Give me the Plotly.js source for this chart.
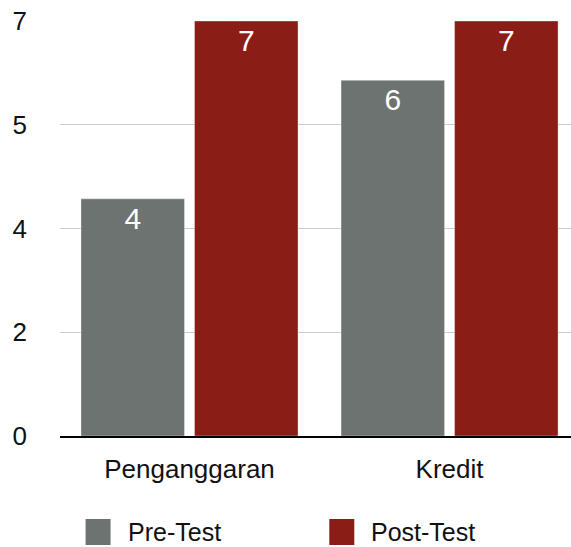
<!DOCTYPE html>
<html>
<head>
<meta charset="utf-8">
<script src="https://cdn.plot.ly/plotly-3.0.1.min.js"></script>
<style>html,body{margin:0;padding:0;background:#fff;}#chart{width:571px;height:547px;}</style>
</head>
<body>
<div id="chart"></div>
<script>
var categories = ['Penganggaran', 'Kredit'];
var seriesNames = ['Pre-Test', 'Post-Test'];
var preTest = [4, 6];
var postTest = [7, 7];
var seriesColors = ['#6d7371', '#8b1d17'];
var yTickVals = [0, 1.75, 3.5, 5.25, 7];
var yTickText = ['0', '2', '4', '5', '7'];

var FONT = '"Liberation Sans", Arial, Helvetica, sans-serif';

function barTrace(name, vals, color) {
  return {
    type: 'bar', name: name, x: categories, y: vals,
    marker: {color: color, line: {color: 'rgba(255,255,255,0.35)', width: 1}},
    text: vals.map(function (v) { return String(Math.round(v)); }),
    textposition: 'inside', insidetextanchor: 'end',
    textfont: {family: FONT, size: 30, color: '#ffffff'},
    constraintext: 'none',
    hoverinfo: 'skip', showlegend: false
  };
}

var data = [
  barTrace(seriesNames[0], preTest, seriesColors[0]),
  barTrace(seriesNames[1], postTest, seriesColors[1])
];

// Custom legend (large square swatches)
var legendX = [0.05, 0.527];
var shapes = [], annotations = [];
seriesNames.forEach(function (n, i) {
  shapes.push({type: 'rect', xref: 'paper', yref: 'paper',
    x0: legendX[i], x1: legendX[i] + 25 / 511,
    y0: -0.2, y1: -0.2 - 26 / 415,
    fillcolor: seriesColors[i], line: {width: 0}});
  annotations.push({xref: 'paper', yref: 'paper', x: legendX[i] + 40 / 511,
    y: -0.2 - 13 / 415, xanchor: 'left', yanchor: 'middle', showarrow: false,
    text: n, font: {family: FONT, size: 25, color: '#111'}});
});

var layout = {
  width: 571, height: 547,
  margin: {l: 60, r: 0, t: 21, b: 111},
  paper_bgcolor: '#fff', plot_bgcolor: '#fff',
  font: {family: FONT, size: 25, color: '#111'},
  barmode: 'group', bargap: 0.127, bargroupgap: 0.088,
  showlegend: false,
  xaxis: {
    type: 'category', range: [-0.498, 1.467], fixedrange: true,
    showline: true, linecolor: '#000', linewidth: 2,
    ticks: '', ticklabelstandoff: 9,
    tickfont: {family: FONT, size: 26, color: '#111'},
    showgrid: false, zeroline: false
  },
  yaxis: {
    range: [0, 7], tickmode: 'array', tickvals: yTickVals, ticktext: yTickText,
    showgrid: true, gridcolor: '#cccccc', gridwidth: 1,
    zeroline: false, showline: false, ticks: '',
    ticklabelstandoff: 32,
    tickfont: {family: FONT, size: 26, color: '#111'},
    fixedrange: true
  },
  shapes: shapes,
  annotations: annotations
};

Plotly.newPlot('chart', data, layout, {displayModeBar: false, staticPlot: true});
</script>
</body>
</html>
